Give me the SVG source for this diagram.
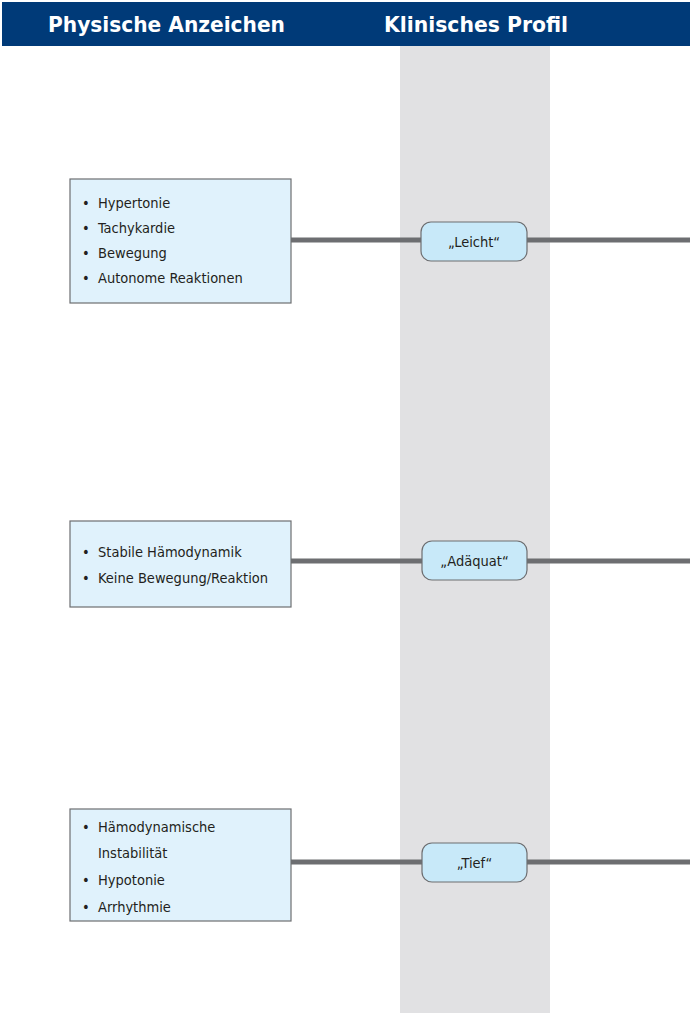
<svg xmlns="http://www.w3.org/2000/svg" width="690" height="1015" viewBox="0 0 690 1015">
<style>
.hdr{font-family:"DejaVu Sans Condensed","Liberation Sans",sans-serif;font-weight:bold;font-size:22px;fill:#ffffff}
.box{fill:#e0f2fc;stroke:#6d6e71;stroke-width:1.2}
.pill{fill:#c8e9f9;stroke:#6d6e71;stroke-width:1.2}
.t{font-family:"DejaVu Sans Condensed","Liberation Sans",sans-serif;font-size:14.5px;fill:#231f20}
.conn{stroke:#6d6e71;stroke-width:5;fill:none}
</style>
<rect x="0" y="0" width="690" height="1015" fill="#ffffff"/>
<rect x="2" y="2" width="688" height="44" fill="#003a78"/>
<rect x="400" y="46" width="150" height="967" fill="#e1e1e3"/>
<text class="hdr" x="48" y="32" textLength="237" lengthAdjust="spacingAndGlyphs">Physische Anzeichen</text>
<text class="hdr" x="384" y="32" textLength="184" lengthAdjust="spacingAndGlyphs">Klinisches Profil</text>
<g id="connectors">
<line class="conn" x1="291" y1="240" x2="421" y2="240"/>
<line class="conn" x1="527" y1="240" x2="690" y2="240"/>
<line class="conn" x1="291" y1="561" x2="422" y2="561"/>
<line class="conn" x1="527" y1="561" x2="690" y2="561"/>
<line class="conn" x1="291" y1="862" x2="422" y2="862"/>
<line class="conn" x1="527" y1="862" x2="690" y2="862"/>
</g>
<g id="box1">
<rect class="box" x="70" y="179" width="221" height="124"/>
<text class="t" x="82" y="208">•</text><text class="t" x="98" y="208">Hypertonie</text>
<text class="t" x="82" y="233">•</text><text class="t" x="98" y="233">Tachykardie</text>
<text class="t" x="82" y="258">•</text><text class="t" x="98" y="258">Bewegung</text>
<text class="t" x="82" y="283">•</text><text class="t" x="98" y="283">Autonome Reaktionen</text>
</g>
<g id="box2">
<rect class="box" x="70" y="521" width="221" height="86"/>
<text class="t" x="82" y="557">•</text><text class="t" x="98" y="557">Stabile Hämodynamik</text>
<text class="t" x="82" y="583">•</text><text class="t" x="98" y="583">Keine Bewegung/Reaktion</text>
</g>
<g id="box3">
<rect class="box" x="70" y="809" width="221" height="112"/>
<text class="t" x="82" y="832">•</text><text class="t" x="98" y="832">Hämodynamische</text>
<text class="t" x="98" y="858">Instabilität</text>
<text class="t" x="82" y="885">•</text><text class="t" x="98" y="885">Hypotonie</text>
<text class="t" x="82" y="912">•</text><text class="t" x="98" y="912">Arrhythmie</text>
</g>
<g id="pill1">
<rect class="pill" x="421" y="222" width="106" height="39" rx="10"/>
<text class="t" x="474" y="247" text-anchor="middle">„Leicht“</text>
</g>
<g id="pill2">
<rect class="pill" x="422" y="541" width="105" height="39" rx="10"/>
<text class="t" x="474.5" y="566" text-anchor="middle">„Adäquat“</text>
</g>
<g id="pill3">
<rect class="pill" x="422" y="843" width="105" height="39" rx="10"/>
<text class="t" x="474.5" y="868" text-anchor="middle">„Tief“</text>
</g>
</svg>
